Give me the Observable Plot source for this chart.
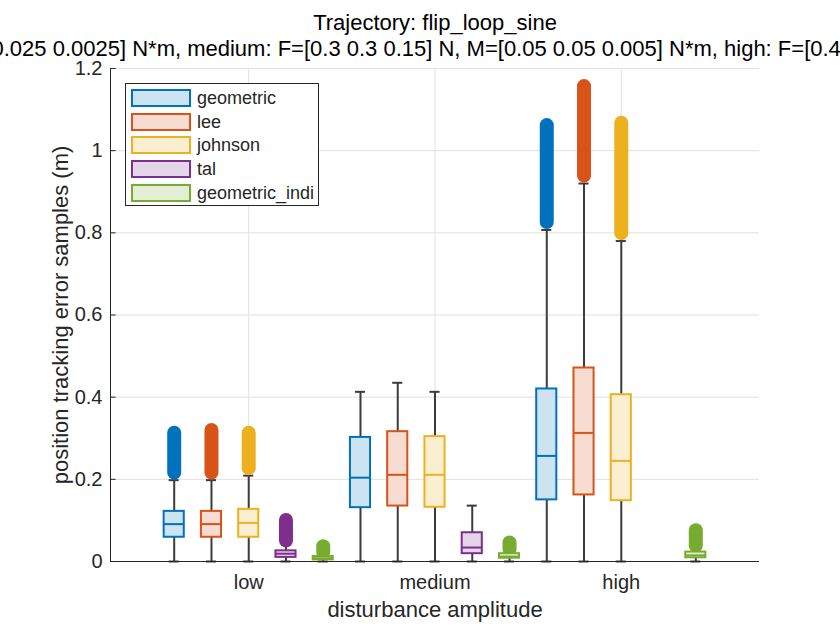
<!DOCTYPE html>
<html>
<head>
<meta charset="utf-8">
<script src="https://cdn.jsdelivr.net/npm/d3@7"></script>
<script src="https://cdn.jsdelivr.net/npm/@observablehq/plot@0.6"></script>
<style>
  body { margin: 0; background: #fff; font-family: "Liberation Sans", Arial, sans-serif; }
  #wrap { position: relative; width: 840px; height: 630px; overflow: hidden; }
  #legend { position: absolute; left: 125px; top: 83px; width: 194px; height: 123px;
    border: 1px solid #262626; background: #fff; box-sizing: border-box; }
  .item { position: absolute; left: 5px; height: 18px; }
  .sw { position: absolute; left: 0; top: 0; width: 60px; height: 18px; box-sizing: border-box; border: 2px solid; }
  .lab { position: absolute; left: 66px; top: -2px; font-size: 18px; color: #262626; white-space: nowrap; line-height: 22px; }
</style>
</head>
<body>
<div id="wrap"><div id="chart"></div><div id="legend"></div></div>
<script>
// ---- data ----
const groups = ["low", "medium", "high"];
const methods = ["geometric", "lee", "johnson", "tal", "geometric_indi"];
const colors = ["#0072BD", "#D95319", "#EDB120", "#7E2F8E", "#77AC30"];
const fills = ["#cce3f2", "#f7ddd1", "#fbefd2", "#e5d5e8", "#e4eed6"];
const yTicks = [0, 0.2, 0.4, 0.6, 0.8, 1, 1.2];

// per method: values for [low, medium, high]; null = no data
const whiskerLow = [[0, 0, 0], [0, 0, 0], [0, 0, 0], [0, 0, null], [0, 0, 0]];
const q1 = [[0.059, 0.131, 0.150], [0.059, 0.135, 0.162], [0.059, 0.132, 0.148], [0.010, 0.019, null], [0.004, 0.008, 0.009]];
const median = [[0.091, 0.204, 0.257], [0.091, 0.211, 0.313], [0.094, 0.211, 0.245], [0.019, 0.034, null], [0.008, 0.012, 0.015]];
const q3 = [[0.122, 0.302, 0.420], [0.122, 0.316, 0.471], [0.127, 0.304, 0.406], [0.026, 0.070, null], [0.012, 0.019, 0.023]];
const whiskerHigh = [[0.198, 0.413, 0.807], [0.198, 0.435, 0.920], [0.209, 0.413, 0.780], [0.045, 0.136, null], [0.020, 0.025, 0.033]];
const outlierMin = [[0.215, null, 0.825], [0.215, null, 0.938], [0.226, null, 0.798], [0.050, null, null], [0.022, 0.028, 0.037]];
const outlierMax = [[0.312, null, 1.061], [0.319, null, 1.156], [0.312, null, 1.067], [0.100, null, null], [0.036, 0.045, 0.075]];

// ---- build table ----
const offsets = [-0.4, -0.2, 0, 0.2, 0.4];
const boxW = 0.108;
const rows = [];
methods.forEach((m, i) => {
  groups.forEach((g, j) => {
    if (q1[i][j] == null) return;
    rows.push({
      method: m, color: colors[i], fill: fills[i], pos: j + 1 + offsets[i],
      wlo: whiskerLow[i][j], q1: q1[i][j], med: median[i][j], q3: q3[i][j],
      whi: whiskerHigh[i][j], omin: outlierMin[i][j], omax: outlierMax[i][j]
    });
  });
});
const outRows = rows.filter(r => r.omin != null);

const xDomain = [0.258, 3.742];
const ink = "#262626";
const grid = "#e0e0e0";
const whisk = "#3c3c3c";

const chart = Plot.plot({
  width: 840, height: 630,
  marginLeft: 110, marginRight: 81, marginTop: 68, marginBottom: 69,
  style: { fontFamily: "'Liberation Sans', Arial, sans-serif", fontSize: "20px", color: ink, background: "#fff" },
  x: { type: "linear", domain: xDomain },
  y: { domain: [0, 1.2] },
  marks: [
    Plot.ruleY(yTicks, { stroke: grid, strokeWidth: 1 }),
    Plot.ruleX([1, 2, 3], { stroke: grid, strokeWidth: 1 }),
    Plot.axisY(yTicks, { tickSize: 0, tickPadding: 8, fontSize: 20, label: null, tickFormat: d => String(d) }),
    Plot.axisX([1, 2, 3], { tickSize: 0, tickPadding: 13, fontSize: 20, label: null, tickFormat: d => groups[d - 1] }),
    Plot.ruleY(yTicks, { x1: xDomain[0], x2: xDomain[0] + 0.03, stroke: ink, strokeWidth: 1 }),
    // whiskers
    Plot.ruleX(rows, { x: "pos", y1: "wlo", y2: "q1", stroke: whisk, strokeWidth: 2 }),
    Plot.ruleX(rows, { x: "pos", y1: "q3", y2: "whi", stroke: whisk, strokeWidth: 2 }),
    Plot.ruleY(rows, { y: "wlo", x1: d => d.pos - boxW / 4, x2: d => d.pos + boxW / 4, stroke: whisk, strokeWidth: 2 }),
    Plot.ruleY(rows, { y: "whi", x1: d => d.pos - boxW / 4, x2: d => d.pos + boxW / 4, stroke: whisk, strokeWidth: 2 }),
    // outliers (dense marker runs)
    Plot.ruleX(outRows, { x: "pos", y1: "omin", y2: "omax", stroke: "color", strokeWidth: 14, strokeLinecap: "round" }),
    // boxes
    Plot.rect(rows, { x1: d => d.pos - boxW / 2, x2: d => d.pos + boxW / 2, y1: "q1", y2: "q3", fill: "fill", stroke: "color", strokeWidth: 2 }),
    Plot.ruleY(rows, { y: "med", x1: d => d.pos - boxW / 2, x2: d => d.pos + boxW / 2, stroke: "color", strokeWidth: 2 }),
    // axis lines
    Plot.ruleX([xDomain[0]], { stroke: ink, strokeWidth: 1 }),
    Plot.ruleY([0], { stroke: ink, strokeWidth: 1 }),
    // titles and labels
    Plot.text(["Trajectory: flip_loop_sine"], { text: d => d, frameAnchor: "top", dy: -54, fontSize: 22, fill: "#000" }),
    Plot.text(["0.025 0.0025] N*m, medium: F=[0.3 0.3 0.15] N, M=[0.05 0.05 0.005] N*m, high: F=[0.4"],
      { text: d => d, frameAnchor: "top-left", dx: -119, dy: -28, textAnchor: "start", fontSize: 22, fill: "#000" }),
    Plot.text(["disturbance amplitude"], { text: d => d, frameAnchor: "bottom", dy: 55, fontSize: 22, fill: ink }),
    Plot.text(["position tracking error samples (m)"], { text: d => d, frameAnchor: "left", textAnchor: "middle", dx: -50, rotate: -90, fontSize: 22, fill: ink })
  ]
});
document.getElementById("chart").appendChild(chart);

// legend
const legend = document.getElementById("legend");
methods.forEach((m, i) => {
  const it = document.createElement("div");
  it.className = "item";
  it.style.top = (5 + i * 23.7) + "px";
  const sw = document.createElement("div");
  sw.className = "sw";
  sw.style.borderColor = colors[i];
  sw.style.background = fills[i];
  const lb = document.createElement("div");
  lb.className = "lab";
  lb.textContent = m;
  it.appendChild(sw); it.appendChild(lb);
  legend.appendChild(it);
});
</script>
</body>
</html>
